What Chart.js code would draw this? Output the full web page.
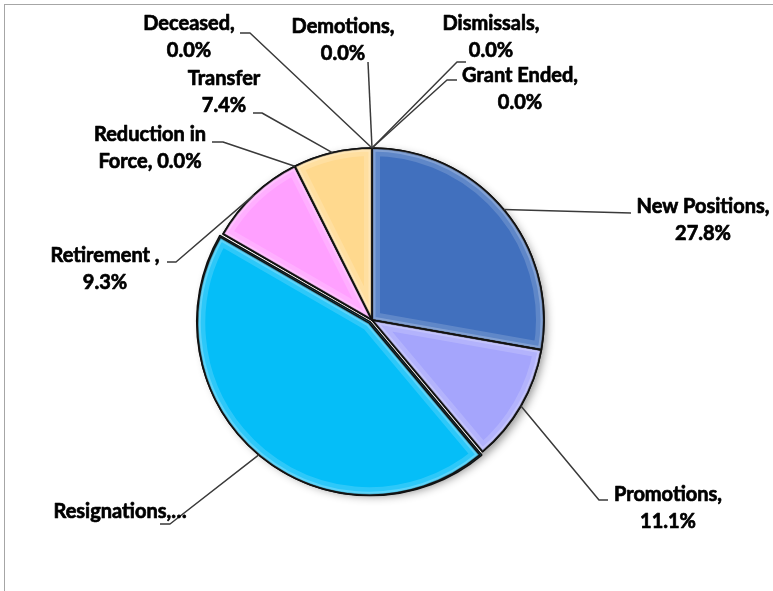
<!DOCTYPE html>
<html>
<head>
<meta charset="utf-8">
<script src="https://cdn.jsdelivr.net/npm/chart.js@4.4.1/dist/chart.umd.min.js"></script>
<style>
    html, body { margin: 0; padding: 0; background: #fff; overflow: hidden; }
    #frame { position: absolute; left: 4px; top: 4px; width: 820px; height: 640px; border: 1px solid #a6a6a6; }
    #chart { position: absolute; left: 0; top: 0; }
</style>
</head>
<body>
<div id="frame"></div>
<canvas id="chart" width="773" height="591"></canvas>
<script>
// data
const categories = ['New Positions', 'Promotions', 'Resignations', 'Retirement ', 'Reduction in Force',
    'Transfer', 'Deceased', 'Demotions', 'Dismissals', 'Grant Ended'];
const counts = [15, 6, 24, 5, 0, 4, 0, 0, 0, 0];
const sliceColors = ['#4170BE', '#A5A5FC', '#05BEF8', '#FFA0FF', '#F2A0A0',
    '#FFD98E', '#999999', '#999999', '#999999', '#999999'];
const sliceOffsets = [0, 0, 10, 0, 0, 0, 0, 0, 0, 0];

// label text as it wraps in the picture, {p} = percent of total
const labelLines = [
    ['New Positions,', '{p}'],
    ['Promotions,', '{p}'],
    ['Resignations,…'],
    ['Retirement ,', '{p}'],
    ['Reduction in', 'Force, {p}'],
    ['Transfer', '{p}'],
    ['Deceased,', '{p}'],
    ['Demotions,', '{p}'],
    ['Dismissals,', '{p}'],
    ['Grant Ended,', '{p}']
];

// label placement, relative to pie centre: leader elbow, stub end, centre of first text line
const labelLayout = [
    { elbow: [259, -107], stub: null,        text: [331, -113] },
    { elbow: [227, 180],  stub: [236, 180],  text: [296, 175] },
    { elbow: [-202, 204], stub: [-212, 204], text: [-252, 192] },
    { elbow: [-196, -58], stub: [-205, -58], text: [-267, -64] },
    { elbow: [-149, -178], stub: [-160, -178], text: [-222, -185] },
    { elbow: [-110, -207], stub: [-119, -207], text: [-148, -241] },
    { elbow: [-122, -287], stub: [-132, -287], text: [-183, -296] },
    { elbow: [-4, -258],  stub: null,        text: [-29, -293] },
    { elbow: [85, -258],  stub: [94, -258],  text: [119, -296] },
    { elbow: [75, -240],  stub: [85, -240],  text: [148, -244] }
];

const total = counts.reduce((a, b) => a + b, 0);

function arcShift(el, i) {
    // same shift Chart.js applies to an offset arc
    const circ = el.endAngle - el.startAngle;
    const off = (sliceOffsets[i] || 0) / 4;
    const fix = 1 - Math.sin(Math.min(Math.PI, circ || 0));
    const t = off + off * fix;
    const mid = (el.startAngle + el.endAngle) / 2;
    return [Math.cos(mid) * t, Math.sin(mid) * t];
}

const pieExtras = {
    id: 'pieExtras',
    beforeDatasetsDraw(chart) {
        const el = chart.getDatasetMeta(0).data[0];
        const ctx = chart.ctx;
        ctx.save();
        ctx.shadowColor = 'rgba(0,0,0,0.45)';
        ctx.shadowBlur = 10;
        ctx.shadowOffsetX = 2;
        ctx.shadowOffsetY = 4;
        ctx.fillStyle = '#fff';
        ctx.beginPath();
        ctx.arc(el.x, el.y, el.outerRadius, 0, Math.PI * 2);
        ctx.fill();
        ctx.restore();
    },
    afterDatasetsDraw(chart) {
        const ctx = chart.ctx;
        const arcs = chart.getDatasetMeta(0).data;

        // bevel look on each slice
        arcs.forEach((el, i) => {
            if (el.endAngle - el.startAngle <= 0) return;
            const [sx, sy] = arcShift(el, i);
            const cx = el.x + sx, cy = el.y + sy, r = el.outerRadius;
            ctx.save();
            ctx.beginPath();
            ctx.moveTo(cx, cy);
            ctx.arc(cx, cy, r, el.startAngle, el.endAngle);
            ctx.closePath();
            ctx.clip();
            ctx.lineJoin = 'round';
            ctx.lineWidth = 16;
            ctx.strokeStyle = 'rgba(255,255,255,0.16)';
            ctx.stroke();
            ctx.lineWidth = 7;
            ctx.strokeStyle = 'rgba(255,255,255,0.22)';
            ctx.stroke();
            ctx.lineWidth = 3;
            ctx.strokeStyle = 'rgba(0,0,0,0.28)';
            ctx.stroke();
            ctx.restore();
            ctx.save();
            ctx.beginPath();
            ctx.moveTo(cx, cy);
            ctx.arc(cx, cy, r, el.startAngle, el.endAngle);
            ctx.closePath();
            ctx.lineJoin = 'round';
            ctx.lineWidth = 1.6;
            ctx.strokeStyle = '#111';
            ctx.stroke();
            ctx.restore();
        });

        // leader lines and labels
        const x0 = arcs[0].x, y0 = arcs[0].y;
        ctx.save();
        ctx.font = 'bold 20px Lato';
        ctx.textAlign = 'center';
        ctx.textBaseline = 'middle';
        arcs.forEach((el, i) => {
            const lay = labelLayout[i];
            const mid = (el.startAngle + el.endAngle) / 2;
            const [sx, sy] = arcShift(el, i);
            const ex = el.x + sx + Math.cos(mid) * el.outerRadius;
            const ey = el.y + sy + Math.sin(mid) * el.outerRadius;
            ctx.beginPath();
            ctx.moveTo(ex, ey);
            ctx.lineTo(x0 + lay.elbow[0], y0 + lay.elbow[1]);
            if (lay.stub) ctx.lineTo(x0 + lay.stub[0], y0 + lay.stub[1]);
            ctx.lineWidth = 1.5;
            ctx.strokeStyle = '#3a3a3a';
            ctx.stroke();

            const pct = (counts[i] / total * 100).toFixed(1) + '%';
            ctx.fillStyle = '#000';
            ctx.strokeStyle = '#000';
            ctx.lineWidth = 0.7;
            ctx.lineJoin = 'round';
            labelLines[i].forEach((line, k) => {
                const txt = line.replace('{p}', pct);
                const ty = y0 + lay.text[1] + k * 26.5;
                ctx.fillText(txt, x0 + lay.text[0], ty);
                ctx.strokeText(txt, x0 + lay.text[0], ty);
            });
        });
        ctx.restore();
    }
};

new Chart(document.getElementById('chart'), {
    type: 'pie',
    data: {
        labels: categories,
        datasets: [{
            data: counts,
            backgroundColor: sliceColors,
            borderColor: '#111',
            borderWidth: 1.6,
            offset: sliceOffsets,
            hoverOffset: 0
        }]
    },
    options: {
        responsive: false,
        animation: false,
        radius: 172,
        layout: { padding: { left: 200, right: 229, top: 148, bottom: 99 } },
        plugins: {
            legend: { display: false },
            tooltip: { enabled: false }
        },
        events: []
    },
    plugins: [pieExtras]
});
</script>
</body>
</html>
